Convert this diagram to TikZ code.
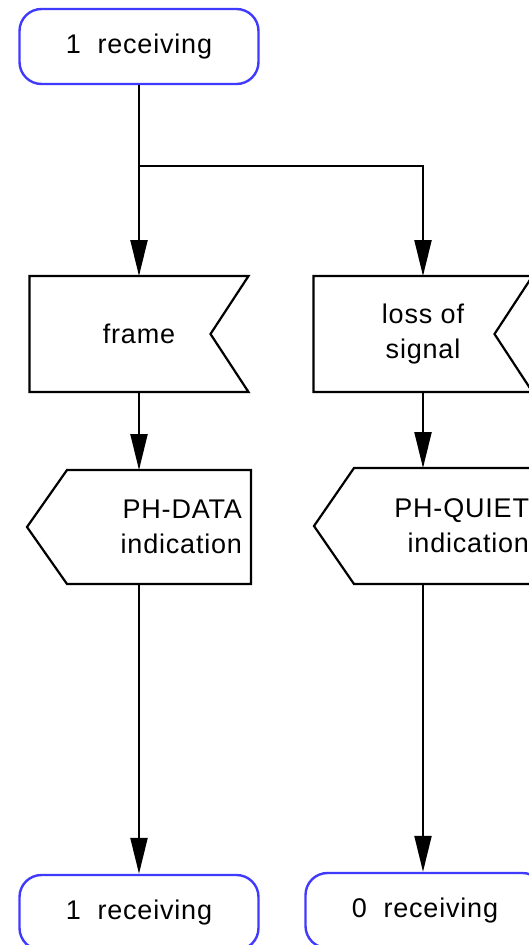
\documentclass[tikz,border=0pt]{standalone}
\usepackage{fontspec}
\setmainfont{Liberation Sans}[LetterSpace=3]
\usetikzlibrary{arrows.meta}

\definecolor{stateblue}{RGB}{64,58,255}

\tikzset{
  sdlstate/.style={draw=stateblue, line width=2.4pt, rounded corners=22pt,
    minimum width=239pt, minimum height=75pt},
  sdlbox/.style={draw=none, line width=2pt, inner sep=0pt, align=center},
  flowline/.style={line width=2.2pt, -{Triangle[length=36pt, width=17pt]}},
  plainline/.style={line width=2.2pt}
}

\begin{document}
\begin{tikzpicture}[x=1pt, y=-1pt, font=\fontsize{27}{35}\selectfont]
    % Canvas, cut off at the right and bottom as in the original
    \path[use as bounding box] (0,0) rectangle (529,945);
    \clip (0,0) rectangle (529,945);

    % States
    \node[sdlstate] (s1) at (139,46.5) {1~~receiving};
    \node[sdlstate] (s2) at (139,912.5) {1~~receiving};
    \node[sdlstate] (s3) at (425,910.5) {0~~receiving};

    % Input signals (notch on the right)
    \node[sdlbox, minimum width=217pt, minimum height=114pt] (in1) at (139,334) {frame};
    \node[sdlbox, minimum width=217pt, minimum height=114pt] (in2) at (423,334) {loss of\\signal};
    \foreach \n in {in1,in2}
      \draw[plainline] (\n.north west) -- (\n.north east) -- ([xshift=-38pt]\n.east)
        -- (\n.south east) -- (\n.south west) -- cycle;

    % Output signals (point on the left)
    \node[sdlbox, minimum height=112pt, text width=206pt, inner xsep=8pt, align=right] (out1) at (139,527) {PH-DATA\\indication};
    \node[sdlbox, minimum height=114pt, text width=206pt, inner xsep=8pt, align=right] (out2) at (426,526) {PH-QUIET\\indication};
    \foreach \n in {out1,out2}
      \draw[plainline] ([xshift=40pt]\n.north west) -- (\n.north east) -- (\n.south east)
        -- ([xshift=40pt]\n.south west) -- (\n.west) -- cycle;

    % Flow lines
    \coordinate (fork) at (139,166);
    \draw[flowline] (s1.south) -- (in1.north);
    \draw[flowline] (fork) -| (in2.north);
    \draw[flowline] (in1.south) -- (out1.north);
    \draw[flowline] (in2.south) -- (in2.south |- out2.north);
    \draw[flowline] (out1.south) -- (s2.north);
    \draw[flowline] (in2.south |- out2.south) -- (in2.south |- s3.north);
\end{tikzpicture}
\end{document}
